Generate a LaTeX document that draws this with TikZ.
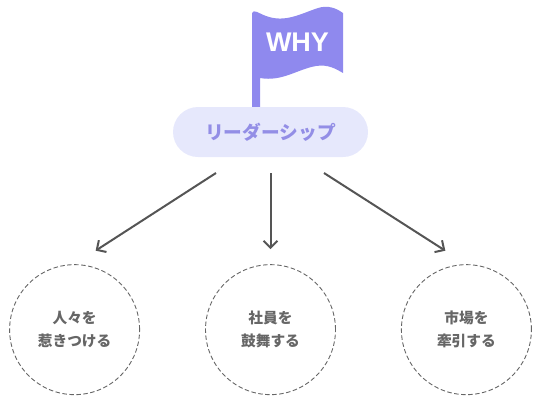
\documentclass[tikz,border=0pt]{standalone}
\usepackage{xcolor}
\usepackage{fontspec}
\setmainfont{Noto Sans CJK JP}
\newfontfamily\whyfont{Liberation Sans}
\usetikzlibrary{positioning,arrows.meta}
\definecolor{flagcol}{HTML}{8F89EE}
\definecolor{pillcol}{HTML}{E6E8FC}
\definecolor{pilltext}{HTML}{938EE6}
\definecolor{linecol}{HTML}{555555}
\definecolor{dashcol}{HTML}{666666}
\definecolor{goaltext}{HTML}{666666}

\begin{document}
\begin{tikzpicture}[
    x=1pt,
    y=-1pt,
    node distance=65pt,
    leaderbox/.style={
        rectangle,
        fill=pillcol,
        rounded corners=25pt,
        minimum width=195pt,
        minimum height=50pt,
        inner sep=0pt,
        text=pilltext,
        font=\fontsize{18.7pt}{22pt}\selectfont\bfseries
      },
    goal/.style={
        circle,
        draw=dashcol,
        dashed,
        dash pattern=on 4.5pt off 2.5pt,
        line width=0.9pt,
        minimum size=130pt,
        inner sep=0pt,
        align=center,
        text=goaltext,
        font=\fontsize{14.7pt}{23pt}\selectfont\bfseries
      },
    arrow/.style={-{Straight Barb[length=7pt,width=14pt]},line width=2pt,draw=linecol}
    ]

    \path[use as bounding box] (0,0) rectangle (540,402);

    % flag
    \fill[flagcol] (252,107) -- (252,13) .. controls (254,9) and (258,13) .. (266,16)
      .. controls (285,23) and (300,14) .. (318,8)
      .. controls (328,5) and (336,8) .. (343,13) -- (343,73)
      .. controls (336,69) and (328,64) .. (316,66)
      .. controls (298,69) and (282,82) .. (260,78) -- (260,107) -- cycle;
    \node[text=white,font=\whyfont\fontsize{27pt}{30pt}\selectfont\bfseries] (why) at (297.5,42) {WHY};

    \node[leaderbox] (leader) at (270.5,132) {リーダーシップ};
    \node[goal,below=107pt of leader] (cheer) {社員を\\鼓舞する};
    \node[goal,left=of cheer] (attract) {人々を\\惹きつける};
    \node[goal,right=of cheer] (market) {市場を\\牽引する};

    \coordinate (startl) at (216,173);
    \coordinate (startm) at (270.5,173);
    \coordinate (startr) at (324,173);

    \draw[arrow,shorten >=25pt] (startl)--(attract.north);
    \draw[arrow,shorten >=15pt] (startm)--(cheer.north);
    \draw[arrow,shorten >=25pt] (startr)--(market.north);

  \end{tikzpicture}
\end{document}
